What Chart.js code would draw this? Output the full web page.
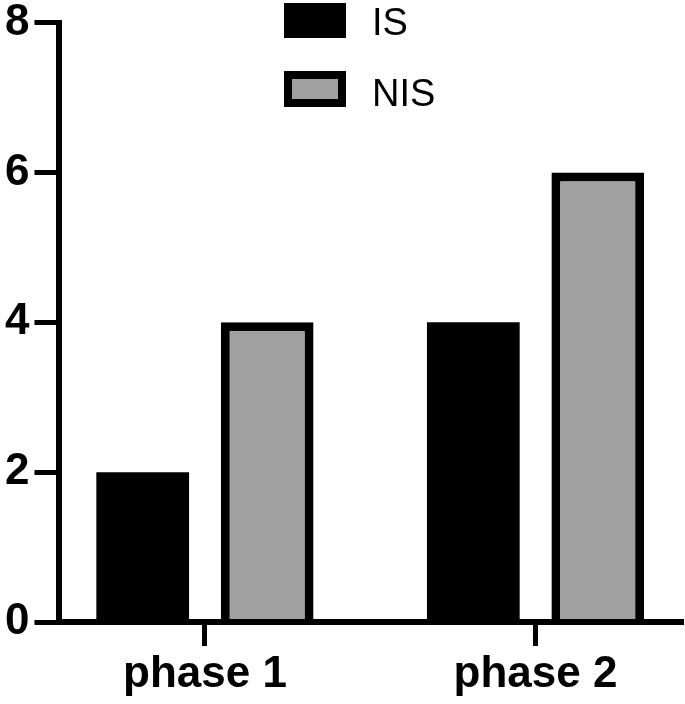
<!DOCTYPE html>
<html>
<head>
<meta charset="utf-8">
<script src="https://cdn.jsdelivr.net/npm/chart.js@4.4.1/dist/chart.umd.min.js"></script>
<style>
    html, body { margin: 0; padding: 0; background: #fff; overflow: hidden; }
    #wrap { position: relative; width: 685px; height: 704px; }
    #legend { position: absolute; left: 0; top: 0; }
    .leg-box { position: absolute; left: 284px; width: 62px; box-sizing: border-box; border: 8px solid #000; }
    .leg-text { position: absolute; left: 372px; font: 38px "Liberation Sans", Arial, sans-serif; line-height: 38px; color: #000; white-space: nowrap; }
</style>
</head>
<body>
<div id="wrap">
    <canvas id="chart" width="685" height="704"></canvas>
    <div id="legend"></div>
</div>
<script>
// values
const categories = ["phase 1", "phase 2"];
const seriesNames = ["IS", "NIS"];
const isValues = [2, 4];
const nisValues = [4, 6];
const yTicks = [0, 2, 4, 6, 8];

const FONT = '"Liberation Sans", Arial, sans-serif';
const fills = ["#000000", "#a0a0a0"];

// categories sit at x = 1, 2 on a linear axis so their spacing matches the picture
const toPoints = vals => vals.map((v, i) => ({ x: i + 1, y: v }));

const datasets = [isValues, nisValues].map((vals, i) => ({
    label: seriesNames[i],
    data: toPoints(vals),
    backgroundColor: fills[i],
    borderColor: "#000",
    borderWidth: i === 0 ? 0 : 9,
    categoryPercentage: 0.753,
    barPercentage: 0.745
}));

// legend drawn as html, overlapping the plot like the original
const legend = document.getElementById("legend");
const legendTops = [[3, 35, 3], [71, 36, 74]];
datasets.forEach((ds, i) => {
    const box = document.createElement("div");
    box.className = "leg-box";
    box.style.top = legendTops[i][0] + "px";
    box.style.height = legendTops[i][1] + "px";
    box.style.background = ds.backgroundColor;
    legend.appendChild(box);
    const txt = document.createElement("div");
    txt.className = "leg-text";
    txt.style.top = legendTops[i][2] + "px";
    txt.innerText = ds.label;
    legend.appendChild(txt);
});

new Chart(document.getElementById("chart").getContext("2d"), {
    type: "bar",
    data: { datasets: datasets },
    options: {
        responsive: false,
        animation: false,
        layout: { padding: { left: 0, right: 2, top: 0, bottom: 0 } },
        plugins: {
            legend: { display: false },
            tooltip: { enabled: false }
        },
        scales: {
            x: {
                type: "linear",
                min: 0.56,
                max: 2.446,
                offset: false,
                afterBuildTicks: axis => { axis.ticks = categories.map((c, i) => ({ value: i + 1 })); },
                grid: {
                    display: true,
                    drawOnChartArea: false,
                    drawTicks: true,
                    tickLength: 24,
                    tickWidth: 5,
                    color: "#000",
                    offset: false
                },
                border: { display: true, color: "#000", width: 6, z: 1 },
                ticks: {
                    padding: 7,
                    maxRotation: 0,
                    autoSkip: false,
                    color: "#000",
                    font: { family: FONT, size: 44, weight: "bold", lineHeight: 1.0 },
                    callback: v => categories[Math.round(v) - 1] || ""
                }
            },
            y: {
                min: 0,
                max: 8,
                afterBuildTicks: axis => { axis.ticks = yTicks.map(v => ({ value: v })); },
                grid: {
                    display: true,
                    drawOnChartArea: false,
                    drawTicks: true,
                    tickLength: 25,
                    tickWidth: 5,
                    color: "#000"
                },
                border: { display: true, color: "#000", width: 6, z: 1 },
                ticks: {
                    padding: 5,
                    color: "#000",
                    font: { family: FONT, size: 44, weight: "bold", lineHeight: 0.8 }
                }
            }
        }
    }
});
</script>
</body>
</html>
